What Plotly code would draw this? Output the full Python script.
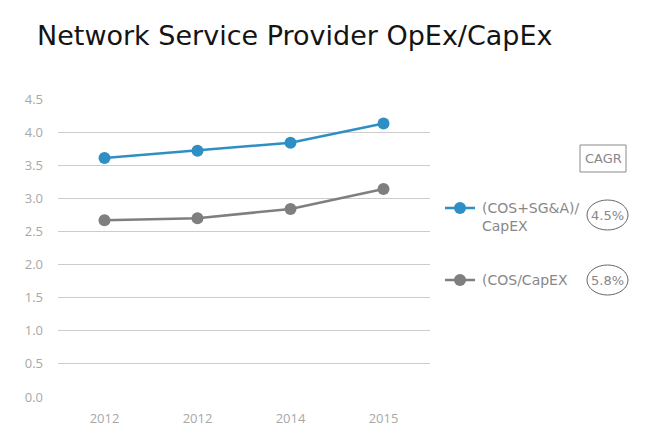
import plotly.graph_objects as go

years = ["2012", "2012", "2014", "2015"]
x_pos = [0, 1, 2, 3]
cos_sga_capex = [3.61, 3.72, 3.84, 4.13]
cos_capex = [2.67, 2.70, 2.84, 3.14]
y_ticks = [0.0, 0.5, 1.0, 1.5, 2.0, 2.5, 3.0, 3.5, 4.0, 4.5]
series_names = ["(COS+SG&A)/<br>CapEX", "(COS/CapEX"]
cagr = ["4.5%", "5.8%"]

BLUE = "#2f8fc4"
GRAY = "#7f7f7f"
W, H = 653, 440
L, R, T, B = 58, 430, 99, 397

def px(x):
    return (x - L) / (R - L)

def py(y):
    return (B - y) / (B - T)

fig = go.Figure()
fig.add_trace(go.Scatter(x=x_pos, y=cos_sga_capex, mode="lines+markers",
                         line=dict(color=BLUE, width=2.5),
                         marker=dict(size=12, color=BLUE), showlegend=False))
fig.add_trace(go.Scatter(x=x_pos, y=cos_capex, mode="lines+markers",
                         line=dict(color=GRAY, width=2.5),
                         marker=dict(size=12, color=GRAY), showlegend=False))

shapes = []
annotations = []
# title
annotations.append(dict(text="Network Service Provider OpEx/CapEx", xref="paper", yref="paper",
                        x=px(35), y=py(36), xanchor="left", yanchor="middle", showarrow=False,
                        font=dict(family="DejaVu Sans", size=27, color="#141414")))
# CAGR box
shapes.append(dict(type="rect", xref="paper", yref="paper", x0=px(580), x1=px(626),
                   y0=py(172), y1=py(145), line=dict(color="#8a8a8a", width=1)))
annotations.append(dict(text="CAGR", xref="paper", yref="paper", x=px(603), y=py(158.5),
                        xanchor="center", yanchor="middle", showarrow=False,
                        font=dict(family="DejaVu Sans", size=13, color="#888888")))
legend_rows = [(208, 217, 215, BLUE), (280, 280, 280, GRAY)]
for i, (ly, ty, ey, col) in enumerate(legend_rows):
    shapes.append(dict(type="line", xref="paper", yref="paper", x0=px(445), x1=px(475),
                       y0=py(ly), y1=py(ly), line=dict(color=col, width=2.5)))
    shapes.append(dict(type="circle", xref="paper", yref="paper", x0=px(454), x1=px(466),
                       y0=py(ly + 6), y1=py(ly - 6), fillcolor=col, line=dict(color=col, width=0)))
    annotations.append(dict(text=series_names[i], xref="paper", yref="paper", x=px(480), y=py(ty),
                            xanchor="left", yanchor="middle", showarrow=False, align="left",
                            font=dict(family="DejaVu Sans", size=14, color="#888888")))
    shapes.append(dict(type="circle", xref="paper", yref="paper", x0=px(587), x1=px(628),
                       y0=py(ey + 15), y1=py(ey - 15), line=dict(color="#666666", width=1)))
    annotations.append(dict(text=cagr[i], xref="paper", yref="paper", x=px(607.5), y=py(ey),
                            xanchor="center", yanchor="middle", showarrow=False,
                            font=dict(family="DejaVu Sans", size=13, color="#888888")))

fig.update_layout(
    width=W, height=H,
    margin=dict(l=L, r=W - R, t=T, b=H - B, pad=0),
    paper_bgcolor="white", plot_bgcolor="white",
    shapes=shapes, annotations=annotations,
    xaxis=dict(range=[-0.5, 3.5], tickvals=x_pos, ticktext=years, showgrid=False,
               zeroline=False, showline=False, ticks="", ticklabelstandoff=12,
               tickfont=dict(family="Open Sans", size=13, color="#a8a8a8"), fixedrange=True),
    yaxis=dict(range=[0, 4.5], tickvals=y_ticks, ticktext=[f"{v:.1f}" for v in y_ticks],
               showgrid=True, gridcolor="#cccccc", gridwidth=1, zeroline=False, showline=False,
               ticks="", ticklabelstandoff=14,
               tickfont=dict(family="Open Sans", size=13, color="#a8a8a8"), fixedrange=True),
)
fig.write_html("out.html", config={"displayModeBar": False},
               post_script="document.body.style.margin='0';document.body.style.padding='0';")
